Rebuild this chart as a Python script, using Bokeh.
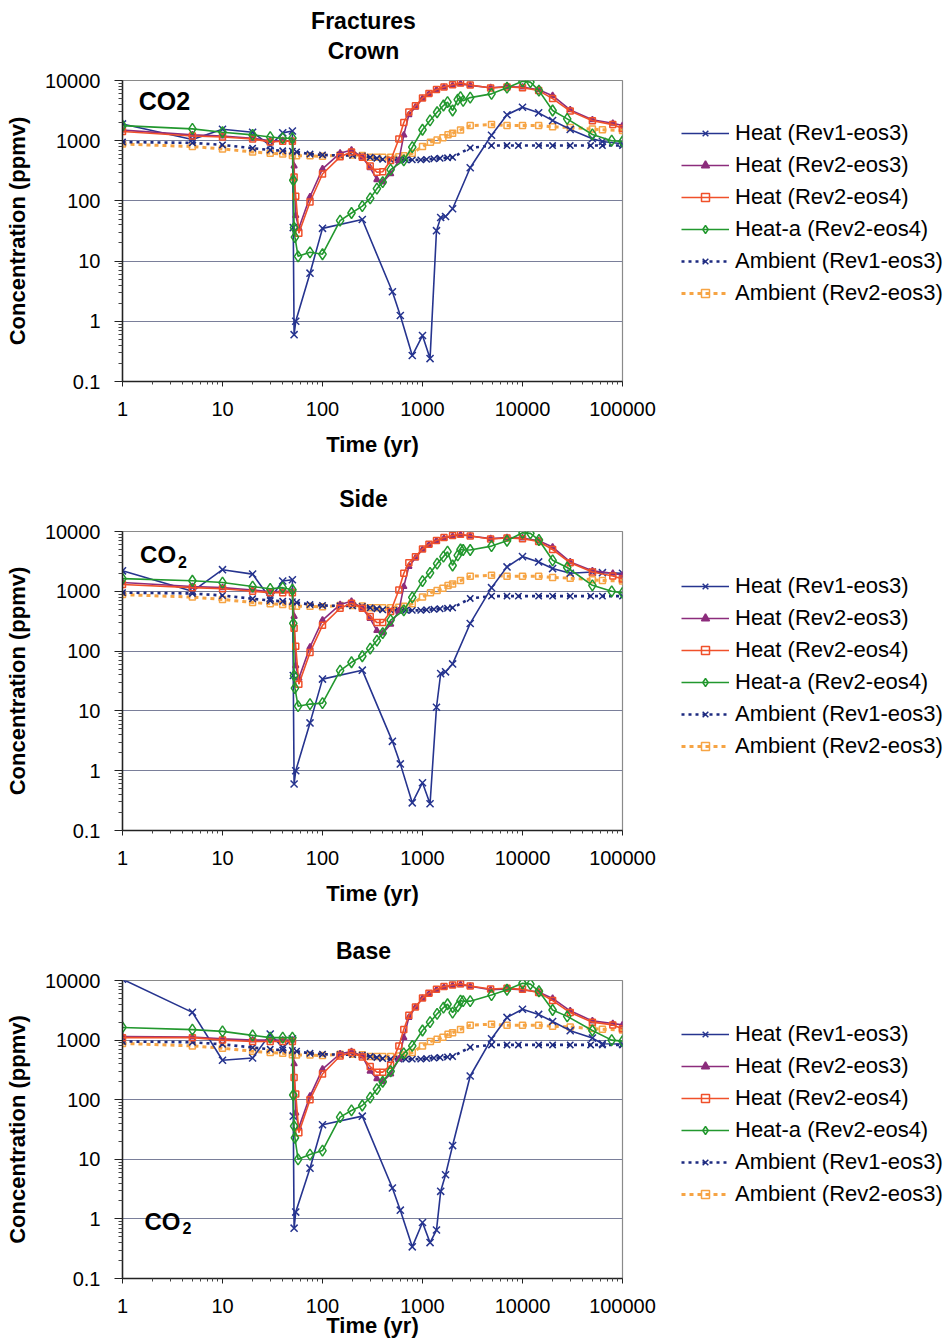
from bokeh.plotting import figure
from bokeh.models import (Range1d, FixedTicker, CustomJSTickFormatter, Legend,
                          LegendItem, Label)
from bokeh.layouts import column, row
from bokeh.embed import file_html
from bokeh.resources import INLINE

FONT = "Liberation Sans"

# ---------------- axes ----------------
X_TICKS = [1, 10, 100, 1000, 10000, 100000]
X_TICK_LABELS = ["1", "10", "100", "1000", "10000", "100000"]
Y_TICKS = [0.1, 1, 10, 100, 1000, 10000]
Y_TICK_LABELS = ["0.1", "1", "10", "100", "1000", "10000"]
X_LABEL = "Time (yr)"
Y_LABEL = "Concentration (ppmv)"

SERIES_LABELS = ["Heat (Rev1-eos3)", "Heat (Rev2-eos3)", "Heat (Rev2-eos4)",
                 "Heat-a (Rev2-eos4)", "Ambient (Rev1-eos3)", "Ambient (Rev2-eos3)"]

# ---------------- time grids (yr) ----------------
T_HEAT_REV1 = [1, 5, 10, 20, 30, 40, 50, 51, 52, 54, 75, 100, 250, 500, 600, 790, 1000,
               1190, 1380, 1520, 1700, 2000, 3000, 4900, 7000, 10000, 14500, 20000,
               30000, 50000, 63000, 100000]
T_HEAT_REV2 = [1, 5, 10, 20, 30, 40, 50, 52, 54, 58, 75, 100, 150, 195, 250, 300, 350,
               400, 480, 580, 650, 730, 850, 1000, 1160, 1380, 1640, 2000, 2400, 3000,
               4800, 7000, 10000, 14500, 20000, 30000, 50000, 80000, 100000]
T_HEATA = [1, 5, 10, 20, 30, 40, 50, 51, 52, 53, 57, 75, 100, 150, 195, 250, 300, 350,
           400, 480, 650, 790, 1000, 1190, 1400, 1620, 1780, 2000, 2250, 2400, 2550, 3000,
           4900, 7000, 10000, 12000, 14600, 20000, 28000, 50000, 78000, 100000]
T_AMB_REV1 = [1, 5, 10, 20, 30, 40, 50, 55, 75, 100, 150, 200, 250, 300, 350, 400, 480,
              580, 680, 790, 960, 1100, 1300, 1500, 1780, 2000, 3000, 4900, 7000, 9100,
              14500, 20000, 30000, 48000, 63000, 100000]
T_AMB_REV2 = [1, 5, 10, 20, 30, 40, 50, 55, 75, 100, 150, 200, 250, 300, 350, 400, 480,
              580, 650, 790, 1000, 1200, 1400, 1600, 1800, 2000, 2400, 3000, 4900, 7000,
              10000, 14500, 20000, 30000, 50000, 63000, 100000]

# ---------------- CO2 concentration (ppmv) ----------------
# Crown
CROWN_HEAT_REV1_EOS3 = [1900, 1050, 1550, 1380, 830, 1350, 1450, 36, 0.6, 1.0, 6.3, 35, 49,
                        3.1, 1.25, 0.27, 0.58, 0.24, 32, 53, 55, 74, 355, 1230, 2700, 3600,
                        2900, 2170, 1540, 1080, 970, 890]
CROWN_HEAT_REV2_EOS3 = [1500, 1250, 1200, 1100, 1000, 1000, 1000, 380, 57, 35, 117, 340,
                        620, 700, 530, 355, 225, 205, 282, 470, 1240, 2700, 3600, 5000,
                        6000, 7000, 7700, 8250, 8800, 8300, 7600, 7900, 7800, 7000, 5600,
                        3250, 2230, 1950, 1790]
CROWN_HEAT_REV2_EOS4 = [1420, 1200, 1150, 1070, 950, 980, 980, 250, 120, 29, 96, 280, 540,
                        650, 530, 380, 300, 305, 470, 1070, 2000, 3000, 3800, 5100, 6100,
                        7100, 7800, 8500, 9100, 8400, 7500, 7800, 7600, 6800, 5000, 3100,
                        2150, 1850, 1600]
CROWN_HEATA_REV2_EOS4 = [1780, 1570, 1380, 1250, 1150, 1100, 1100, 220, 36, 25, 12, 14, 13,
                         47, 63, 82, 110, 160, 205, 330, 470, 780, 1520, 2170, 2970, 3840,
                         4360, 3170, 4800, 5300, 4600, 5200, 6000, 7600, 9700, 9400, 6800,
                         3170, 2300, 1270, 1000, 970]
# Side
SIDE_HEAT_REV1_EOS3 = [2200, 1000, 2300, 1940, 760, 1490, 1560, 39, 0.6, 1.0, 6.3, 34, 48,
                       3.1, 1.3, 0.29, 0.63, 0.28, 11.5, 42, 45, 61, 290, 1150, 2560, 3800,
                       3100, 2400, 2000, 2100, 2050, 2000]
SIDE_HEAT_REV2_EOS3 = [1400, 1200, 1150, 1050, 980, 1000, 1000, 380, 57, 35, 117, 330, 600,
                       680, 520, 350, 220, 200, 280, 470, 1200, 2600, 3600, 5000, 6000, 7000,
                       7700, 8300, 8800, 8400, 7600, 7900, 7800, 7000, 5500, 3100, 2200,
                       2000, 1860]
SIDE_HEAT_REV2_EOS4 = [1300, 1150, 1100, 1000, 950, 950, 950, 240, 120, 28, 95, 270, 520,
                       630, 520, 380, 300, 300, 460, 1050, 2000, 3000, 3800, 5100, 6100,
                       7100, 7900, 8600, 9000, 8400, 7500, 7800, 7600, 6800, 5000, 3000,
                       2100, 1800, 1600]
SIDE_HEATA_REV2_EOS4 = [1630, 1500, 1400, 1200, 1100, 1150, 1060, 290, 39, 24, 12, 13, 13.5,
                        47, 65, 82, 110, 150, 200, 330, 480, 790, 1480, 2030, 2900, 3800,
                        4600, 2700, 4000, 5000, 4900, 4900, 5700, 7000, 9500, 9300, 7200,
                        3300, 2500, 1260, 1000, 940]
# Base
BASE_HEAT_REV1_EOS3 = [10500, 2920, 460, 500, 1260, 750, 1050, 53, 0.7, 1.3, 7.1, 38, 53,
                       3.3, 1.4, 0.34, 0.87, 0.40, 0.65, 2.9, 5.5, 17, 250, 1050, 2400, 3300,
                       2700, 2050, 1440, 1080, 870, 860]
BASE_HEAT_REV2_EOS3 = [1150, 1130, 1050, 1000, 1000, 1000, 1000, 400, 60, 34, 115, 325, 590,
                       640, 540, 300, 225, 200, 270, 480, 1100, 2400, 3560, 5000, 6000, 7000,
                       7700, 8200, 8500, 8000, 7000, 7200, 7000, 6400, 5000, 3100, 2100,
                       1900, 1800]
BASE_HEAT_REV2_EOS4 = [1100, 1100, 1000, 950, 950, 950, 950, 235, 125, 28, 100, 270, 540,
                       620, 520, 360, 290, 290, 380, 800, 1500, 2600, 3600, 5100, 6100, 7100,
                       7900, 8400, 8800, 8100, 7200, 7400, 7100, 6300, 4600, 2900, 2000,
                       1800, 1550]
BASE_HEATA_REV2_EOS4 = [1630, 1500, 1400, 1200, 1100, 1100, 1100, 120, 36, 23, 10, 12, 14,
                        51, 66, 80, 108, 150, 200, 300, 600, 800, 1450, 2000, 2760, 3500,
                        4000, 2900, 3700, 4600, 4500, 4500, 5700, 7000, 9000, 8700, 6600,
                        3200, 2500, 1450, 1000, 960]
# Ambient (same in all three locations)
AMB_REV1_EOS3 = [950, 920, 850, 750, 700, 680, 670, 650, 600, 580, 570, 570, 560, 530, 510,
                 490, 480, 480, 480, 480, 480, 490, 500, 510, 520, 530, 760, 830, 830, 830,
                 830, 830, 830, 830, 830, 830]
AMB_REV2_EOS3 = [880, 800, 730, 650, 620, 600, 570, 560, 560, 550, 580, 580, 570, 530, 530,
                 530, 530, 540, 560, 620, 800, 945, 1030, 1120, 1250, 1330, 1510, 1780, 1850,
                 1780, 1780, 1780, 1700, 1660, 1560, 1520, 1480]

PANEL_TITLES = [["Fractures", "Crown"], ["Side"], ["Base"]]
PANEL_DATA = [
    [CROWN_HEAT_REV1_EOS3, CROWN_HEAT_REV2_EOS3, CROWN_HEAT_REV2_EOS4, CROWN_HEATA_REV2_EOS4,
     AMB_REV1_EOS3, AMB_REV2_EOS3],
    [SIDE_HEAT_REV1_EOS3, SIDE_HEAT_REV2_EOS3, SIDE_HEAT_REV2_EOS4, SIDE_HEATA_REV2_EOS4,
     AMB_REV1_EOS3, AMB_REV2_EOS3],
    [BASE_HEAT_REV1_EOS3, BASE_HEAT_REV2_EOS3, BASE_HEAT_REV2_EOS4, BASE_HEATA_REV2_EOS4,
     AMB_REV1_EOS3, AMB_REV2_EOS3],
]
SERIES_TIMES = [T_HEAT_REV1, T_HEAT_REV2, T_HEAT_REV2, T_HEATA, T_AMB_REV1, T_AMB_REV2]

# ---------------- styles ----------------
STYLES = [
    dict(color="#26348f", dash="solid", width=1.6, marker="x", size=10, fill=None),
    dict(color="#8c2c7c", dash="solid", width=1.6, marker="triangle", size=6, fill="#8c2c7c"),
    dict(color="#f0502a", dash="solid", width=1.6, marker="square", size=6, fill=None),
    dict(color="#22982e", dash="solid", width=1.6, marker="diamond", size=11, fill=None),
    dict(color="#1d2a80", dash="3 4", width=2.6, marker="x", size=9, fill=None),
    dict(color="#f6a444", dash="4 4", width=3.0, marker="square", size=6, fill=None),
]
DRAW_ORDER = [5, 4, 0, 1, 2, 3]

Y_MINOR = [m * 10.0 ** k for k in range(-1, 4) for m in range(2, 10)]
X_MINOR = [m * 10.0 ** k for k in range(0, 5) for m in range(2, 10)]

FMT_CODE = """
const i = tvals.findIndex(t => Math.abs(Math.log10(t) - Math.log10(tick)) < 1e-6);
return i >= 0 ? tlabels[i] : "";
"""

MAIN_W = 660
LEG_W = 952 - MAIN_W
# per panel: title strip height, title line centres (px from strip top), main fig height,
# main top/bottom borders, tick-label / axis-label standoffs, legend top offset
LAYOUT = [
    dict(title_h=68, title_c=[20, 50], h=402, top=12, bottom=89, lstand=15, astand=13,
         leg_top=120),
    dict(title_h=46, title_c=[28], h=404, top=15, bottom=90, lstand=15, astand=13,
         leg_top=103),
    dict(title_h=46, title_c=[30], h=377, top=14, bottom=65, lstand=15, astand=-3,
         leg_top=101),
]
CO2_POS = [(1.45, 4650, False), (1.5, 4100, True), (1.66, 0.92, True)]


def blank_fig(w, h, xr=(0, 1), yr=(0, 1), **kw):
    f = figure(width=w, height=h, output_backend="svg", toolbar_location=None,
               x_axis_location=None, y_axis_location=None,
               x_range=Range1d(*xr), y_range=Range1d(*yr), **kw)
    f.outline_line_color = None
    f.xgrid.visible = False
    f.ygrid.visible = False
    f.background_fill_color = "white"
    f.border_fill_color = "white"
    return f


def make_title_strip(idx):
    lay = LAYOUT[idx]
    f = blank_fig(MAIN_W, lay["title_h"], min_border_left=122, min_border_right=MAIN_W - 622,
                  min_border_top=0, min_border_bottom=0)
    for t, c in zip(PANEL_TITLES[idx], lay["title_c"]):
        f.add_layout(Label(x=241, y=lay["title_h"] - c, x_units="screen", y_units="screen",
                           text=t, text_font=FONT, text_font_size="23px",
                           text_font_style="bold", text_color="black",
                           text_align="center", text_baseline="middle"))
    return f


def make_legend_fig(idx):
    lay = LAYOUT[idx]
    # ranges chosen so that the series themselves fall outside this (legend-only) frame
    f = blank_fig(LEG_W, lay["title_h"] + lay["h"], xr=(-3, -2), yr=(-3, -2),
                  min_border_left=21, min_border_top=lay["leg_top"], min_border_right=0,
                  min_border_bottom=0)
    data = PANEL_DATA[idx]
    items = []
    for s in range(6):
        st = STYLES[s]
        r_line = f.line(SERIES_TIMES[s], data[s], line_color=st["color"],
                        line_width=st["width"], line_dash=st["dash"])
        r_mark = f.scatter(SERIES_TIMES[s], data[s], marker=st["marker"], size=st["size"],
                           line_color=st["color"], line_width=1.5, fill_color=st["fill"],
                           fill_alpha=1.0 if st["fill"] else 0.0)
        items.append(LegendItem(label=SERIES_LABELS[s], renderers=[r_line, r_mark]))
    legend = Legend(items=items, location="top_left", orientation="vertical",
                    label_text_font=FONT, label_text_font_size="22px",
                    label_text_color="black",
                    glyph_width=48, glyph_height=20, label_height=20, spacing=6,
                    label_standoff=6, padding=2, margin=0,
                    border_line_color=None, background_fill_alpha=0)
    f.add_layout(legend, "center")
    return f


def make_panel(idx):
    lay = LAYOUT[idx]
    p = figure(width=MAIN_W, height=lay["h"], x_axis_type="log", y_axis_type="log",
               x_range=Range1d(X_TICKS[0], X_TICKS[-1]),
               y_range=Range1d(Y_TICKS[0], Y_TICKS[-1]),
               output_backend="svg", toolbar_location=None,
               min_border_left=122, min_border_right=MAIN_W - 622,
               min_border_top=lay["top"], min_border_bottom=lay["bottom"])

    p.background_fill_color = "white"
    p.border_fill_color = "white"
    p.outline_line_color = "#8a8a8a"
    p.outline_line_width = 1.2

    p.xaxis.ticker = FixedTicker(ticks=X_TICKS, minor_ticks=X_MINOR)
    p.yaxis.ticker = FixedTicker(ticks=Y_TICKS, minor_ticks=Y_MINOR)
    p.xaxis.formatter = CustomJSTickFormatter(args=dict(tvals=X_TICKS, tlabels=X_TICK_LABELS),
                                              code=FMT_CODE)
    p.yaxis.formatter = CustomJSTickFormatter(args=dict(tvals=Y_TICKS, tlabels=Y_TICK_LABELS),
                                              code=FMT_CODE)
    for ax in (p.xaxis, p.yaxis):
        ax.axis_line_color = "#222222"
        ax.axis_line_width = 1.5
        ax.major_tick_line_color = "#222222"
        ax.minor_tick_line_color = "#444444"
        ax.major_tick_in = 0
        ax.minor_tick_in = 0
        ax.major_label_text_font = FONT
        ax.major_label_text_font_size = "20px"
        ax.major_label_text_color = "black"
        ax.axis_label_text_font = FONT
        ax.axis_label_text_font_size = "22px"
        ax.axis_label_text_font_style = "bold"
        ax.axis_label_text_color = "black"
    p.xaxis.major_tick_out = 5
    p.xaxis.minor_tick_out = 3
    p.yaxis.major_tick_out = 8
    p.yaxis.minor_tick_out = 4
    p.xaxis.major_label_standoff = lay["lstand"]
    p.xaxis.axis_label_standoff = lay["astand"]
    p.yaxis.major_label_standoff = 14
    p.yaxis.axis_label_standoff = 12
    p.xaxis.axis_label = X_LABEL
    p.yaxis.axis_label = Y_LABEL

    p.xgrid.visible = False
    p.ygrid.grid_line_color = "#7a7f9a"
    p.ygrid.grid_line_width = 1.2

    data = PANEL_DATA[idx]
    for s in DRAW_ORDER:
        st = STYLES[s]
        p.line(SERIES_TIMES[s], data[s], line_color=st["color"],
               line_width=st["width"], line_dash=st["dash"])
        p.scatter(SERIES_TIMES[s], data[s], marker=st["marker"], size=st["size"],
                  line_color=st["color"], line_width=1.5,
                  fill_color=st["fill"], fill_alpha=1.0 if st["fill"] else 0.0)

    cx, cy, sub = CO2_POS[idx]
    if sub:
        p.add_layout(Label(x=cx, y=cy, text="CO", text_font=FONT, text_font_size="24px",
                           text_font_style="bold", text_baseline="middle",
                           text_align="left", text_color="black"))
        p.add_layout(Label(x=cx, y=cy, x_offset=38, y_offset=-7, text="2", text_font=FONT,
                           text_font_size="16px", text_font_style="bold",
                           text_baseline="middle", text_align="left", text_color="black"))
    else:
        p.add_layout(Label(x=cx, y=cy, text="CO2", text_font=FONT, text_font_size="25px",
                           text_font_style="bold", text_baseline="middle",
                           text_align="left", text_color="black"))
    return p


panels = []
for i in range(3):
    panels.append(row(column(make_title_strip(i), make_panel(i), spacing=0),
                      make_legend_fig(i), spacing=0))
layout = column(*panels, spacing=0)
open("out.html", "w").write(file_html(layout, INLINE))
